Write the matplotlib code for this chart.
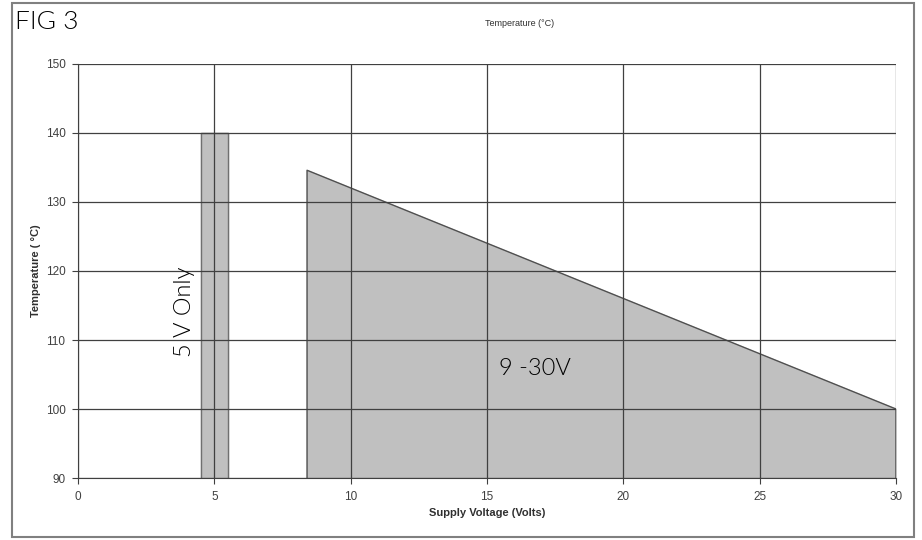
import matplotlib.pyplot as plt
from matplotlib.patches import Rectangle

# 5 V only band
band_x = [4.5, 5.5]
band_top = 140

# 9-30 V derating region
region_x = [8.4, 30]
region_y = [134.6, 100]

x_ticks = [0, 5, 10, 15, 20, 25, 30]
y_ticks = [90, 100, 110, 120, 130, 140, 150]

fig = plt.figure(figsize=(9.22, 5.4), dpi=100)
ax = fig.add_axes([0.0846, 0.1148, 0.8872, 0.7667])

fill_c = '#c0c0c0'
edge_c = '#707070'

ax.fill_between(band_x, [90, 90], [band_top, band_top], color=fill_c, zorder=1)
ax.plot([band_x[0], band_x[0], band_x[1], band_x[1]], [90, band_top, band_top, 90],
        color=edge_c, lw=1, zorder=2)

ax.fill_between(region_x, [90, 90], region_y, color=fill_c, zorder=1)
ax.plot([region_x[0], region_x[0], region_x[1], region_x[1]],
        [90, region_y[0], region_y[1], 90], color='#505050', lw=1, zorder=2)

ax.set_xlim(0, 30)
ax.set_ylim(90, 150)
ax.set_xticks(x_ticks)
ax.set_yticks(y_ticks)
ax.grid(True, color='#404040', lw=0.9, zorder=3)
ax.set_axisbelow(False)
for s in ['top', 'right']:
    ax.spines[s].set_visible(False)
for s in ['left', 'bottom']:
    ax.spines[s].set_color('#404040')
ax.tick_params(labelsize=8.5, colors='#404040', length=4, pad=5)
for lbl in ax.get_xticklabels() + ax.get_yticklabels():
    lbl.set_fontfamily('Liberation Sans')

ax.set_xlabel('Supply Voltage (Volts)', fontsize=8, fontweight='bold',
              fontfamily='Liberation Sans', color='#303030', labelpad=4)
ax.set_ylabel('Temperature ( °C)', fontsize=8, fontweight='bold',
              fontfamily='Liberation Sans', color='#303030', labelpad=3)

ax.text(3.92, 114.1, '5 V Only', rotation=90, fontsize=17, ha='center', va='center',
        fontfamily='Lato', fontweight=300, zorder=5)
ax.text(16.75, 105.8, '9 -30V', fontsize=17, ha='center', va='center',
        fontfamily='Lato', fontweight=300, zorder=5)

fig.text(0.5635, 0.957, 'Temperature (°C)', fontsize=6.5, ha='center', va='center',
         fontfamily='Liberation Sans', color='#303030')
fig.text(0.016, 0.96, 'FIG 3', fontsize=19, ha='left', va='center',
         fontfamily='Lato', fontweight=300)

border = Rectangle((0.013, 0.005), 0.978, 0.99, transform=fig.transFigure,
                   fill=False, ec='#808080', lw=1.5)
fig.patches.append(border)

fig.savefig('out.png', dpi=100)
